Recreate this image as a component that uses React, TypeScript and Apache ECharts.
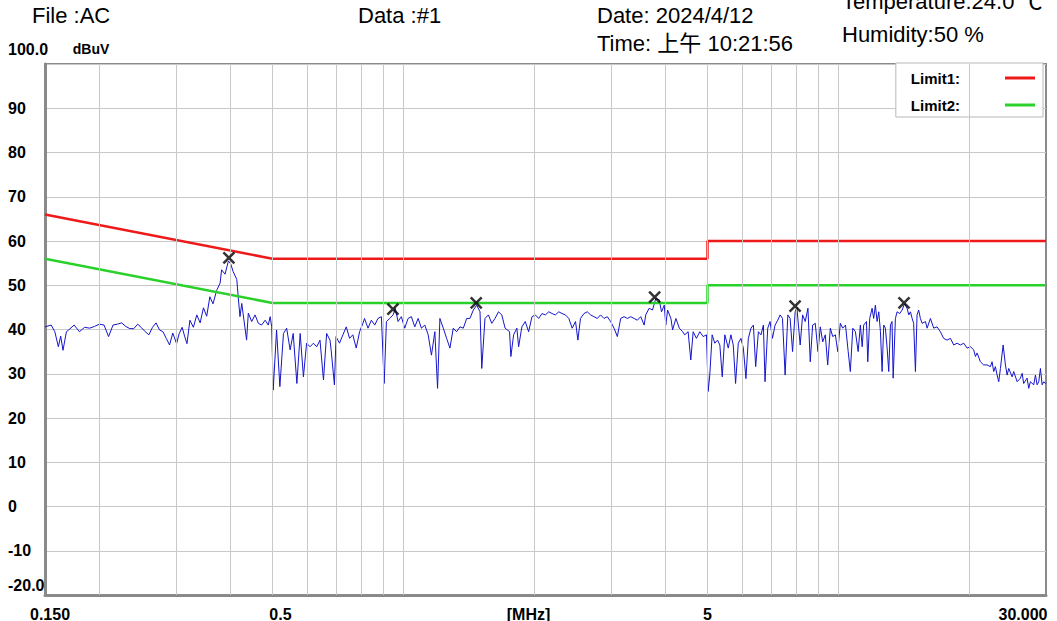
import React, { useEffect, useRef } from 'react';
import * as echarts from 'echarts';

const FONT = '"Liberation Sans", Arial, "Noto Sans CJK SC", sans-serif';

// ---- data ----
const xLabelValues = [0.15, 0.5, 5, 30];
const xLabelTexts = ['0.150', '0.5', '5', '30.000'];
const gridFreqs = [0.2, 0.3, 0.4, 0.5, 0.6, 0.7, 0.8, 0.9, 1, 2, 3, 4, 5, 6, 7, 8, 9, 10, 20];

const limit1 = [[0.15, 66], [0.5, 56], [5, 56], [5, 60], [30, 60]];
const limit2 = [[0.15, 56], [0.5, 46], [5, 46], [5, 50], [30, 50]];

const peaks = [[0.397, 56.2], [0.946, 44.6], [1.47, 46.0], [3.78, 47.3], [7.95, 45.3], [14.15, 46.0]];

const spectrum = [
  [0.150, 40.6], [0.155, 41.0], [0.158, 39.5], [0.161, 36.1], [0.163, 38.5], [0.165, 35.3], [0.168, 39.5], [0.170, 39.9],
  [0.175, 41.0], [0.180, 39.5], [0.185, 40.5], [0.190, 40.3], [0.195, 40.7], [0.200, 41.2], [0.205, 41.0], [0.210, 38.4],
  [0.215, 41.0], [0.220, 41.2], [0.225, 41.5], [0.230, 40.7], [0.235, 40.2], [0.240, 40.2], [0.245, 41.2], [0.250, 40.4],
  [0.255, 39.5], [0.260, 38.8], [0.265, 40.5], [0.270, 41.5], [0.275, 39.9], [0.280, 39.5], [0.285, 38.0], [0.290, 36.5],
  [0.295, 39.2], [0.301, 36.8], [0.305, 39.0], [0.310, 40.5], [0.314, 38.5], [0.318, 36.8], [0.323, 42.1], [0.329, 40.5],
  [0.335, 43.3], [0.341, 41.5], [0.347, 44.9], [0.353, 43.0], [0.359, 47.4], [0.365, 45.8], [0.372, 48.8], [0.379, 50.5],
  [0.382, 53.5], [0.389, 52.5], [0.396, 55.5], [0.401, 54.8], [0.406, 53.1], [0.414, 51.3], [0.417, 47.5], [0.421, 42.9],
  [0.425, 45.9], [0.428, 43.6], [0.432, 40.6], [0.436, 37.6], [0.440, 43.7], [0.448, 41.8], [0.456, 43.3], [0.464, 41.4],
  [0.472, 41.0], [0.481, 42.1], [0.489, 41.0], [0.494, 42.9], [0.498, 40.6],
  [0.502, 26.3], [0.511, 39.9], [0.520, 27.1], [0.530, 39.1], [0.539, 40.3], [0.549, 35.4], [0.558, 39.1], [0.569, 27.8],
  [0.579, 39.1], [0.589, 29.3], [0.599, 36.9], [0.610, 36.1], [0.621, 36.9], [0.632, 36.1], [0.643, 37.6], [0.655, 28.6],
  [0.666, 39.1], [0.678, 37.6],
  [0.682, 35.4], [0.694, 27.5], [0.700, 38.4], [0.713, 36.9], [0.726, 38.8], [0.739, 40.6], [0.752, 38.0], [0.765, 38.8],
  [0.779, 35.8], [0.793, 39.5], [0.807, 41.4], [0.814, 42.5], [0.829, 40.3], [0.844, 42.1], [0.859, 41.0], [0.874, 42.5],
  [0.890, 42.9], [0.903, 27.8], [0.914, 41.8], [0.930, 42.5], [0.947, 43.3], [0.958, 44.8], [0.972, 41.8], [0.989, 42.9],
  [1.007, 40.3], [1.025, 42.5], [1.043, 42.9], [1.062, 40.6], [1.081, 42.5], [1.100, 40.3], [1.120, 41.0], [1.140, 38.8],
  [1.160, 34.2], [1.181, 39.5], [1.198, 26.7], [1.213, 42.5], [1.235, 40.3], [1.257, 38.0], [1.279, 35.8], [1.302, 40.3],
  [1.325, 39.5], [1.349, 40.6], [1.373, 40.3], [1.398, 42.5], [1.422, 42.5], [1.448, 44.4], [1.474, 45.5], [1.500, 44.0],
  [1.514, 31.2], [1.540, 42.5], [1.568, 43.3], [1.596, 41.4], [1.624, 42.5], [1.654, 44.0], [1.683, 43.3], [1.713, 40.3],
  [1.754, 39.5], [1.766, 33.9], [1.792, 38.8], [1.823, 40.3], [1.840, 36.1], [1.872, 40.6], [1.906, 41.8], [1.940, 39.5],
  [1.975, 42.9], [2.010, 43.3], [2.046, 42.5], [2.082, 43.6], [2.120, 43.3], [2.158, 44.0], [2.197, 43.6], [2.235, 43.3],
  [2.276, 44.0], [2.316, 43.6], [2.357, 43.3], [2.400, 42.5], [2.443, 40.3], [2.487, 41.8], [2.518, 37.6], [2.553, 42.5],
  [2.600, 43.6], [2.646, 44.0], [2.693, 43.3], [2.741, 42.9], [2.790, 42.5], [2.839, 43.3], [2.891, 42.5], [2.942, 42.9],
  [2.994, 41.8], [3.049, 40.3], [3.103, 38.4], [3.158, 42.5], [3.215, 42.9], [3.272, 42.5], [3.330, 42.9], [3.390, 42.5],
  [3.450, 42.1], [3.511, 42.9], [3.576, 41.0], [3.606, 43.3], [3.672, 44.8], [3.737, 44.4], [3.803, 47.0], [3.873, 46.7],
  [3.920, 44.0], [3.977, 45.5], [4.010, 41.0], [4.048, 44.4], [4.120, 42.5], [4.157, 39.9], [4.230, 42.5], [4.308, 40.3],
  [4.384, 39.5],
  [4.432, 38.8], [4.513, 39.5], [4.577, 33.1], [4.635, 39.5], [4.716, 38.0], [4.800, 39.5], [4.887, 38.4], [4.973, 38.8],
  [5.018, 26.0], [5.061, 29.7], [5.125, 38.8], [5.197, 36.9], [5.273, 37.6], [5.338, 36.5], [5.406, 29.3], [5.481, 38.8],
  [5.581, 35.8], [5.659, 38.8], [5.731, 36.5], [5.802, 27.8], [5.886, 36.9], [5.968, 38.0], [6.045, 35.8], [6.129, 28.9],
  [6.207, 38.0], [6.294, 40.3], [6.375, 41.0], [6.453, 31.6], [6.546, 39.5], [6.637, 38.8], [6.722, 41.0], [6.780, 28.2],
  [6.878, 40.3], [6.963, 41.8], [7.052, 38.0], [7.150, 41.0], [7.255, 42.1], [7.344, 43.3], [7.437, 42.5], [7.541, 29.7],
  [7.650, 43.3], [7.744, 42.5], [7.844, 35.0], [7.953, 44.0], [8.025, 45.0], [8.167, 36.5], [8.273, 43.3], [8.388, 41.8],
  [8.509, 44.8], [8.614, 32.7], [8.724, 41.0], [8.845, 41.4], [8.974, 35.0], [9.084, 40.6], [9.200, 37.2], [9.328, 38.8],
  [9.447, 32.0], [9.579, 40.3], [9.703, 38.4], [9.839, 38.8], [9.964, 35.0], [10.10, 41.4], [10.23, 40.3], [10.38, 41.0],
  [10.53, 35.0], [10.65, 30.5], [10.79, 40.3], [10.94, 39.5], [11.10, 35.0], [11.23, 41.0],
  [11.34, 36.1], [11.43, 41.0], [11.60, 41.8], [11.68, 32.7], [11.80, 42.5], [11.95, 44.8], [12.05, 42.5], [12.16, 45.5],
  [12.27, 41.8], [12.38, 44.0], [12.49, 39.5], [12.60, 30.5], [12.71, 41.0], [12.82, 40.3], [12.94, 35.8], [13.05, 30.5],
  [13.17, 41.0], [13.28, 41.8], [13.36, 29.0], [13.52, 42.5], [13.64, 44.0], [13.83, 43.6], [14.01, 44.4], [14.18, 45.8],
  [14.38, 44.8], [14.51, 43.3], [14.64, 44.0], [14.77, 42.5], [14.89, 41.4], [15.03, 30.5], [15.16, 43.3], [15.29, 44.4],
  [15.43, 42.5], [15.57, 41.4], [15.85, 41.8], [15.99, 40.3], [16.27, 42.5], [16.56, 40.3], [16.85, 40.6], [17.15, 39.5],
  [17.45, 38.0], [17.77, 37.6], [18.09, 38.0], [18.41, 36.5], [18.74, 36.9], [19.07, 36.5], [19.41, 36.9], [19.76, 35.8],
  [20.11, 36.1], [20.46, 35.4], [20.65, 33.9], [20.83, 34.7], [21.20, 32.7], [21.57, 32.0], [21.96, 32.0], [22.35, 31.6],
  [22.55, 32.7], [22.75, 30.5], [22.95, 31.6], [23.16, 29.7], [23.36, 28.2], [23.57, 31.2], [23.91, 36.5], [24.20, 32.0],
  [24.42, 29.7], [24.63, 31.2], [25.08, 29.3], [25.29, 30.5], [25.75, 28.2], [26.20, 29.0], [26.44, 30.1], [26.66, 27.8],
  [27.14, 29.0], [27.38, 26.7], [27.62, 28.2], [28.11, 27.5], [28.37, 29.7], [28.62, 27.5], [28.87, 28.2], [29.13, 31.2],
  [29.39, 27.5], [29.64, 28.2], [29.91, 27.8], [30.0, 28.0],
];

const headerTexts = [
  { text: 'File :AC', x: 32, y: 15 },
  { text: 'Data :#1', x: 358, y: 15 },
  { text: 'Date: 2024/4/12', x: 597, y: 15 },
  { text: 'Time: 上午 10:21:56', x: 597, y: 43 },
  { text: 'Temperature:24.0 ℃', x: 842, y: 1 },
  { text: 'Humidity:50 %', x: 842, y: 34 },
];

export default function App() {
  const ref = useRef<HTMLDivElement>(null);

  useEffect(() => {
    const chart = echarts.init(ref.current as HTMLDivElement, null, { renderer: 'svg' });
    const labelStyle = { fontFamily: FONT, fontSize: 16, fontWeight: 'bold' as const, color: '#000' };

    chart.setOption({
      animation: false,
      backgroundColor: '#ffffff',
      textStyle: { fontFamily: FONT },
      grid: {
        left: 45, right: 11, top: 64, bottom: 26,
        outerBoundsMode: 'none',
        containLabel: false,
        show: true, borderColor: '#8a8a8a', borderWidth: 2,
      },
      legend: {
        data: ['Limit1:', 'Limit2:'],
        orient: 'vertical',
        right: 14,
        top: 63,
        align: 'right',
        icon: 'rect',
        itemWidth: 30,
        itemHeight: 3,
        itemGap: 9,
        padding: [6, 8, 3, 15],
        backgroundColor: '#ffffff',
        borderColor: '#b8b8b8',
        borderWidth: 1,
        formatter: (name: string) => `{n|${name}}`,
        textStyle: {
          fontFamily: FONT, fontSize: 15, fontWeight: 'bold', color: '#000', lineHeight: 18,
          rich: { n: { fontFamily: FONT, fontSize: 15, fontWeight: 'bold', color: '#000', padding: [0, 40, 0, 0] } },
        },
      },
      graphic: headerTexts.map((h) => ({
        type: 'text',
        x: h.x,
        y: h.y,
        silent: true,
        style: {
          text: h.text,
          fontFamily: FONT,
          fontSize: 22,
          fill: '#000',
          align: 'left',
          verticalAlign: 'middle',
        },
      })),
      xAxis: {
        type: 'log',
        logBase: 10,
        min: 0.15,
        max: 30,
        axisLine: { show: true, onZero: false, lineStyle: { color: '#8a8a8a', width: 3 } },
        axisTick: { show: false },
        splitLine: { show: false },
        axisLabel: {
          customValues: xLabelValues,
          margin: 11,
          ...labelStyle,
          formatter: (v: number) => {
            const i = xLabelValues.findIndex((x) => Math.abs(x - v) < 1e-6 * Math.max(1, x));
            if (i < 0) return '';
            const key = ['a', 'b', 'c', 'd'][i];
            return `{${key}|${xLabelTexts[i]}}`;
          },
          rich: {
            a: { ...labelStyle, padding: [0, 0, 0, 10] },
            b: { ...labelStyle, padding: [0, 0, 0, 16] },
            c: { ...labelStyle },
            d: { ...labelStyle, padding: [0, 46, 0, 0] },
          },
        },
        name: '[MHz]',
        nameLocation: 'middle',
        nameGap: 11,
        nameMoveOverlap: false,
        nameTextStyle: { ...labelStyle, verticalAlign: 'top', padding: [0, 34, 0, 0] },
      },
      yAxis: {
        type: 'value',
        min: -20,
        max: 100,
        interval: 10,
        axisLine: { show: true, onZero: false, lineStyle: { color: '#8a8a8a', width: 3 } },
        axisTick: { show: false },
        splitLine: { show: true, lineStyle: { color: '#c8c8c8', width: 1 } },
        axisLabel: {
          align: 'left',
          margin: 37,
          showMinLabel: true,
          showMaxLabel: true,
          ...labelStyle,
          formatter: (v: number) => {
            if (v === 100) return '{t|100.0}';
            if (v === -20) return '{m|-20.0}';
            return String(v);
          },
          rich: {
            t: { ...labelStyle, padding: [0, 0, 30, 0] },
            m: { ...labelStyle, padding: [0, 0, 20, 0] },
          },
        },
        name: 'dBuV',
        nameLocation: 'end',
        nameGap: 8,
        nameTextStyle: { fontFamily: FONT, fontSize: 14, fontWeight: 'bold', color: '#000', padding: [0, 0, 0, 92] },
      },
      series: [
        {
          name: 'grid',
          type: 'line',
          data: [],
          z: 1,
          silent: true,
          markLine: {
            silent: true,
            symbol: ['none', 'none'],
            label: { show: false },
            lineStyle: { color: '#c8c8c8', width: 1, type: 'solid' },
            emphasis: { disabled: true },
            data: gridFreqs.map((f) => ({ xAxis: f })),
          },
        },
        {
          name: 'Spectrum',
          type: 'line',
          data: spectrum,
          showSymbol: false,
          z: 3,
          color: '#1515cc',
          lineStyle: { color: '#1515cc', width: 1 },
        },
        {
          name: 'Limit1:',
          type: 'line',
          data: limit1,
          showSymbol: false,
          z: 4,
          color: '#ee1a1a',
          lineStyle: { color: '#ee1a1a', width: 2.5 },
        },
        {
          name: 'Limit2:',
          type: 'line',
          data: limit2,
          showSymbol: false,
          z: 4,
          color: '#2ad12a',
          lineStyle: { color: '#2ad12a', width: 2.5 },
        },
        {
          name: 'Peaks',
          type: 'scatter',
          data: peaks,
          z: 5,
          symbol: 'path://M0,0L10,10M10,0L0,10',
          symbolSize: 11,
          itemStyle: { color: 'transparent', borderColor: '#000', borderWidth: 2.5 },
        },
      ],
    });

    return () => chart.dispose();
  }, []);

  return (
    <div
      ref={ref}
      style={{ position: 'fixed', left: 0, top: 0, width: 1057, height: 621, background: '#fff' }}
    />
  );
}
